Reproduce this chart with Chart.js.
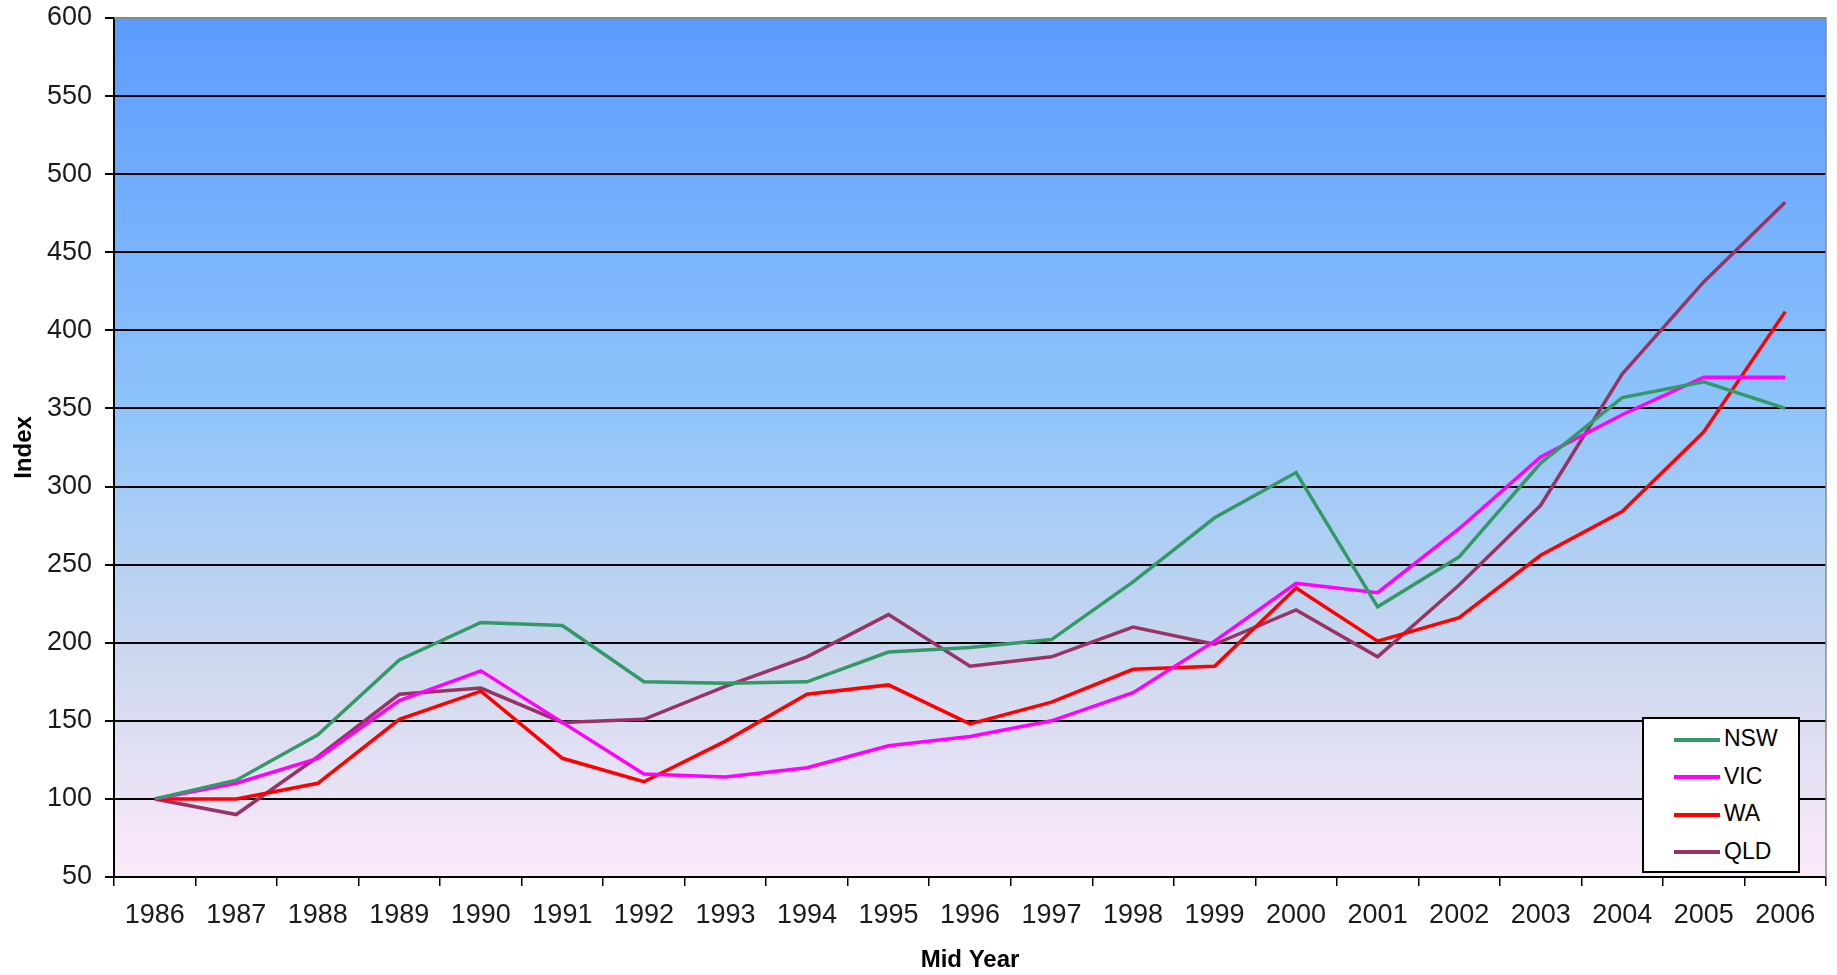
<!DOCTYPE html>
<html>
<head>
<meta charset="utf-8">
<script src="https://cdn.jsdelivr.net/npm/chart.js@4"></script>
<style>
  body { margin: 0; background: #fff; }
  #wrap { position: relative; width: 1837px; height: 975px; }
  #legend { position: absolute; background: #fff; border: 2px solid #000; box-sizing: border-box;
            font-family: 'Liberation Sans', Arial, sans-serif; font-size: 23px; color: #000; }
  #legend .row { position: absolute; left: 30px; height: 26px; line-height: 26px; white-space: nowrap; }
  #legend .swatch { display: inline-block; width: 46px; height: 4px; vertical-align: middle; margin-right: 4px; }
</style>
</head>
<body>
<div id="wrap">
  <canvas id="index-chart" width="1837" height="975"></canvas>
  <div id="legend"></div>
</div>
<script>
// mid year categories
var years = ['1986', '1987', '1988', '1989', '1990', '1991', '1992', '1993', '1994', '1995', '1996',
             '1997', '1998', '1999', '2000', '2001', '2002', '2003', '2004', '2005', '2006'];

// index values, 1986 = 100
var nsw = [100, 112, 141, 189, 213, 211, 175, 174, 175, 194, 197, 202, 239, 280, 309, 223, 255, 315, 357, 367, 350];
var vic = [100, 110, 126, 163, 182, 149, 116, 114, 120, 134, 140, 150, 168, 201, 238, 232, 273, 319, 346, 370, 370];
var wa  = [100, 100, 110, 151, 169, 126, 111, 137, 167, 173, 148, 162, 183, 185, 235, 201, 216, 256, 284, 335, 412];
var qld = [100,  90, 127, 167, 171, 149, 151, 172, 191, 218, 185, 191, 210, 199, 221, 191, 237, 288, 372, 431, 482];

var yMin = 50, yMax = 600, yStep = 50;

var tickFont = { family: "'Liberation Sans', Arial, sans-serif", size: 27 };
var titleFont = { family: "'Liberation Sans', Arial, sans-serif", size: 24, weight: 'bold' };

// plot area fill: blue at top fading to pale pink at the bottom
var plotBackground = {
    id: 'plotBackground',
    beforeDraw: (chart) => {
        var a = chart.chartArea, ctx = chart.ctx;
        var g = ctx.createLinearGradient(0, a.top, 0, a.bottom);
        g.addColorStop(0, '#5b9bff');
        g.addColorStop(0.45, '#8ec4fb');
        g.addColorStop(0.75, '#cdd8ee');
        g.addColorStop(1, '#fdeafa');
        ctx.save();
        ctx.fillStyle = g;
        ctx.fillRect(a.left, a.top, a.right - a.left, a.bottom - a.top);
        ctx.restore();
    },
    afterDraw: (chart) => {
        var a = chart.chartArea, ctx = chart.ctx;
        ctx.save();
        ctx.strokeStyle = '#8a8a8a';
        ctx.lineWidth = 1.5;
        ctx.beginPath();
        ctx.moveTo(a.left, a.top);
        ctx.lineTo(a.right, a.top);
        ctx.lineTo(a.right, a.bottom);
        ctx.stroke();
        ctx.restore();
    }
};

var series = (label, color, data) => ({
    label: label,
    data: data,
    borderColor: color,
    backgroundColor: color,
    borderWidth: 3.5,
    pointRadius: 0,
    tension: 0,
    fill: false
});

var drawIndexChart = () => {
    return new Chart(document.getElementById('index-chart'), {
        type: 'line',
        data: {
            labels: years,
            datasets: [
                series('NSW', '#339966', nsw),
                series('VIC', '#ff00ff', vic),
                series('WA', '#ff0000', wa),
                series('QLD', '#993366', qld)
            ]
        },
        options: {
            responsive: false,
            animation: false,
            devicePixelRatio: 1,
            layout: { padding: { top: 18, right: 11, left: 0, bottom: 0 } },
            plugins: { legend: { display: false }, tooltip: { enabled: false } },
            scales: {
                x: {
                    offset: true,
                    grid: { offset: true, drawOnChartArea: false, drawTicks: true, tickLength: 9, color: '#000', lineWidth: 1.5 },
                    border: { color: '#000', width: 2 },
                    ticks: { font: tickFont, color: '#1a1a1a', padding: 13, maxRotation: 0, autoSkip: false },
                    title: { display: true, text: 'Mid Year', font: titleFont, color: '#000', padding: { top: 0, bottom: 0 } },
                    afterFit: (s) => { s.height = 98; }
                },
                y: {
                    min: yMin,
                    max: yMax,
                    grid: {
                        color: (c) => c.tick && c.tick.value === yMax ? '#8a8a8a' : '#000',
                        lineWidth: 2,
                        tickLength: 9,
                        tickColor: '#000'
                    },
                    border: { color: '#000', width: 2 },
                    ticks: { stepSize: yStep, font: tickFont, color: '#1a1a1a', padding: 13 },
                    title: { display: true, text: 'Index', font: titleFont, color: '#000', padding: { top: 10, bottom: 0 } },
                    afterFit: (s) => { s.width = 114; s.paddingTop = 0; s.paddingBottom = 0; }
                }
            }
        },
        plugins: [plotBackground]
    });
};

var drawLegend = (chart) => {
    var box = document.getElementById('legend');
    var a = chart.chartArea;
    box.style.left = (a.right - 184) + 'px';
    box.style.top = (a.bottom - 160) + 'px';
    box.style.width = '158px';
    box.style.height = '156px';
    chart.data.datasets.forEach(function(ds, i) {
        var row = document.createElement('div');
        row.className = 'row';
        row.style.top = (6 + i * 37.5) + 'px';
        var sw = document.createElement('span');
        sw.className = 'swatch';
        sw.style.background = ds.borderColor;
        row.appendChild(sw);
        row.appendChild(document.createTextNode(ds.label));
        box.appendChild(row);
    });
};

(function () {
    var chart = drawIndexChart();
    drawLegend(chart);
}());
</script>
</body>
</html>
